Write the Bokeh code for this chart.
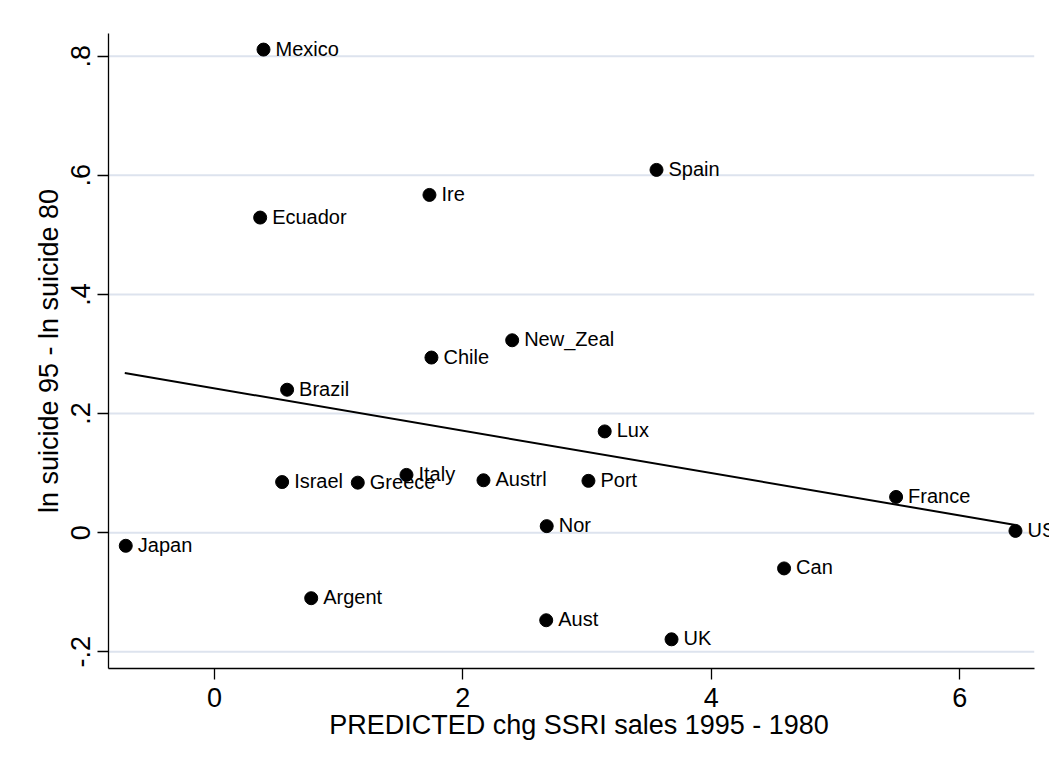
from bokeh.plotting import figure
from bokeh.models import ColumnDataSource, FixedTicker, CustomJSTickFormatter
from bokeh.core.properties import value
from bokeh.embed import file_html
from bokeh.resources import INLINE

countries = ["Mexico", "Spain", "Ire", "Ecuador", "New_Zeal", "Chile", "Brazil", "Lux",
             "Italy", "Israel", "Greece", "Austrl", "Port", "France", "Nor", "US",
             "Japan", "Can", "Argent", "Aust", "UK"]
ssri_chg = [0.395, 3.559, 1.731, 0.368, 2.397, 1.747, 0.585, 3.142,
            1.546, 0.545, 1.154, 2.166, 3.011, 5.488, 2.675, 6.449,
            -0.714, 4.586, 0.779, 2.671, 3.680]
suicide_chg = [0.811, 0.609, 0.567, 0.529, 0.323, 0.294, 0.240, 0.170,
               0.097, 0.085, 0.084, 0.088, 0.087, 0.060, 0.011, 0.003,
               -0.022, -0.060, -0.110, -0.147, -0.179]

# fitted regression line endpoints
fit_x = [-0.722, 6.449]
fit_y = [0.268, 0.013]

x_ticks = [0, 2, 4, 6]
y_ticks = [-0.2, 0, 0.2, 0.4, 0.6, 0.8]
y_tick_labels = ["-.2", "0", ".2", ".4", ".6", ".8"]

FONT = "Liberation Sans"
X0, X1 = -0.853, 6.60

p = figure(width=1049, height=770, output_backend="svg", toolbar_location=None,
           x_range=(X0, 6.723), y_range=(-0.228, 0.838),
           min_border_left=108, min_border_right=0, min_border_top=33, min_border_bottom=102)
p.outline_line_color = None
p.background_fill_color = "white"
p.border_fill_color = "white"
p.xgrid.visible = False
p.ygrid.visible = False

# horizontal gridlines limited to the plot region
gx0 = [X0] * len(y_ticks)
gx1 = [X1] * len(y_ticks)
p.segment(x0=gx0, x1=gx1, y0=y_ticks, y1=y_ticks, line_color="#dde3ee", line_width=2)

# fitted line
p.line(fit_x, fit_y, line_color="black", line_width=2)

src = ColumnDataSource(dict(x=ssri_chg, y=suicide_chg, name=countries))
p.scatter("x", "y", source=src, size=13, fill_color="black", line_color="black", line_width=1)
p.text("x", "y", text="name", source=src, x_offset=12, y_offset=-1,
       text_font=value(FONT), text_font_size="20px", text_baseline="middle",
       text_align="left", text_color="black")

# axes
p.xaxis.bounds = (X0, X1)
p.xaxis.ticker = FixedTicker(ticks=x_ticks)
p.xaxis.minor_tick_line_color = None
p.xaxis.major_tick_in = 0
p.xaxis.major_tick_out = 11
p.xaxis.axis_label = "PREDICTED chg SSRI sales 1995 - 1980"
p.yaxis.ticker = FixedTicker(ticks=y_ticks)
p.yaxis.minor_tick_line_color = None
p.yaxis.major_tick_in = 0
p.yaxis.major_tick_out = 11
p.yaxis.axis_label = "ln suicide 95 - ln suicide 80"
p.yaxis.major_label_orientation = "vertical"
p.yaxis.formatter = CustomJSTickFormatter(
    args=dict(tvals=y_ticks, tlabels=y_tick_labels),
    code="""
    for (let i = 0; i < tvals.length; i++) {
        if (Math.abs(tvals[i] - tick) < 1e-9) return tlabels[i];
    }
    return '';
    """)

for ax in (p.xaxis, p.yaxis):
    ax.axis_line_color = "black"
    ax.axis_line_width = 1.3
    ax.major_tick_line_color = "black"
    ax.major_tick_line_width = 1.3
    ax.major_label_text_font = FONT
    ax.major_label_text_font_size = "27px"
    ax.major_label_text_color = "black"
    ax.axis_label_text_font = FONT
    ax.axis_label_text_font_size = "27px"
    ax.axis_label_text_font_style = "normal"
    ax.axis_label_text_color = "black"

p.xaxis.major_label_standoff = 8
p.xaxis.axis_label_standoff = 0
p.yaxis.major_label_standoff = 7
p.yaxis.axis_label_standoff = 5

open("out.html", "w").write(file_html(p, INLINE))
